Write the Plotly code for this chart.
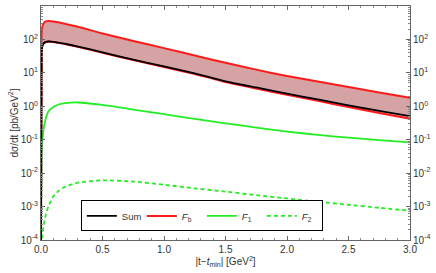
import plotly.graph_objects as go

t = [0.0, 0.005, 0.01, 0.02, 0.04, 0.06, 0.1, 0.15, 0.2, 0.3, 0.5, 0.75, 1.0,
     1.25, 1.5, 1.75, 2.0, 2.25, 2.5, 2.75, 3.0]
fb_upper = [1e-4, 150, 230, 300, 345, 355, 345, 320, 290, 240, 150, 90, 55,
            33, 20, 12.5, 8.0, 5.5, 3.8, 2.6, 1.8]
fb_lower = [1e-4, 35, 60, 75, 84, 86, 84, 78, 72, 60, 40, 24, 15,
            9.3, 5.3, 3.4, 2.2, 1.45, 0.95, 0.63, 0.42]
f1 = [1e-4, 0.04, 0.08, 0.2, 0.45, 0.7, 0.95, 1.15, 1.25, 1.3, 1.1, 0.8, 0.58,
      0.42, 0.31, 0.23, 0.175, 0.14, 0.115, 0.097, 0.083]
f2 = [1e-5, 8e-5, 1.4e-4, 2.5e-4, 6e-4, 1e-3, 2.0e-3, 3.1e-3, 4.0e-3, 5.2e-3,
      6.1e-3, 5.6e-3, 4.5e-3, 3.5e-3, 2.8e-3, 2.2e-3, 1.75e-3, 1.4e-3, 1.13e-3,
      0.92e-3, 0.75e-3]
total = [1e-4, 35, 60, 75, 84.5, 86.7, 85, 79, 73.3, 61.3, 41.1, 24.8, 15.6,
         9.7, 5.6, 3.65, 2.38, 1.6, 1.07, 0.73, 0.51]

y_exps = [-4, -3, -2, -1, 0, 1, 2, 3]
y_ticktext = ["10<sup>%d</sup>" % e for e in y_exps]
x_ticks = [0.0, 0.5, 1.0, 1.5, 2.0, 2.5, 3.0]
x_ticktext = ["0.0", "0.5", "1.0", "1.5", "2.0", "2.5", "3.0"]

RED = "#ff1a1a"
GREEN = "#22ee22"
BAND = "rgb(213,163,163)"
FONT = "Liberation Sans, Arial, sans-serif"
shape = dict(shape="spline", smoothing=0.5)

fig = go.Figure()
fig.add_trace(go.Scatter(x=t, y=fb_lower, mode="lines", name="<i>F</i><sub>b</sub>",
                         legendrank=2,
                         line=dict(color=RED, width=2, **shape)))
fig.add_trace(go.Scatter(x=t, y=fb_upper, mode="lines", showlegend=False,
                         fill="tonexty", fillcolor=BAND,
                         line=dict(color=RED, width=2, **shape)))
fig.add_trace(go.Scatter(x=t, y=f1, mode="lines", name="<i>F</i><sub>1</sub>",
                         legendrank=3,
                         line=dict(color=GREEN, width=1.8, **shape)))
fig.add_trace(go.Scatter(x=t, y=f2, mode="lines", name="<i>F</i><sub>2</sub>",
                         legendrank=4,
                         line=dict(color=GREEN, width=1.8, dash="4px,3px", **shape)))
fig.add_trace(go.Scatter(x=t, y=total, mode="lines", name="Sum",
                         legendrank=1,
                         line=dict(color="black", width=1.8, **shape)))
# invisible trace for right axis
fig.add_trace(go.Scatter(x=[t[0]], y=[total[-1]], yaxis="y2", mode="lines",
                         showlegend=False, hoverinfo="skip",
                         line=dict(color="rgba(0,0,0,0)")))

minor_vals = [m * 10 ** e for e in range(-4, 3) for m in range(2, 10)]
yax = dict(type="log", range=[-4, 3], tickvals=[10 ** e for e in y_exps],
           ticktext=y_ticktext, ticks="inside", ticklen=4, tickcolor="#666",
           showline=True, linecolor="#666", linewidth=1, showgrid=False,
           zeroline=False, tickfont=dict(size=10, color="#333", family=FONT),
           automargin=False, ticklabelstandoff=0,
           minor=dict(tickvals=minor_vals, ticks="inside", ticklen=2,
                      tickcolor="#888", showgrid=False))

fig.update_layout(
    width=436, height=273,
    margin=dict(l=41, r=26, t=6, b=33),
    paper_bgcolor="white", plot_bgcolor="white",
    font=dict(family=FONT, size=10, color="#333"),
    xaxis=dict(range=[0, 3], tickvals=x_ticks, ticktext=x_ticktext,
               ticks="inside", ticklen=4, tickcolor="#666", mirror="ticks",
               showline=True, linecolor="#666", linewidth=1, showgrid=False,
               zeroline=False, automargin=False,
               tickfont=dict(size=10, color="#333", family=FONT),
               minor=dict(dtick=0.1, ticks="inside", ticklen=2, tickcolor="#888",
                          showgrid=False),
               title=dict(text="|t−<i>t</i><sub>min</sub>| [GeV<sup>2</sup>]",
                          standoff=0, font=dict(size=10, color="#333", family=FONT))),
    yaxis=dict(yax, title=dict(text="dσ/dt [pb/GeV<sup>2</sup>]", standoff=0,
                               font=dict(size=10, color="#333", family=FONT))),
    yaxis2=dict(yax, overlaying="y", side="right"),
    legend=dict(orientation="h", x=0.108, y=0.103, xanchor="left", yanchor="middle",
                bordercolor="black", borderwidth=1, bgcolor="white",
                traceorder="normal", font=dict(size=9.5, color="#333", family=FONT),
                tracegroupgap=0, itemwidth=30, entrywidth=15, entrywidthmode="pixels"),
    showlegend=True,
)

fig.write_html("out.html", config={"displayModeBar": False},
               post_script="document.body.style.margin='0';")
